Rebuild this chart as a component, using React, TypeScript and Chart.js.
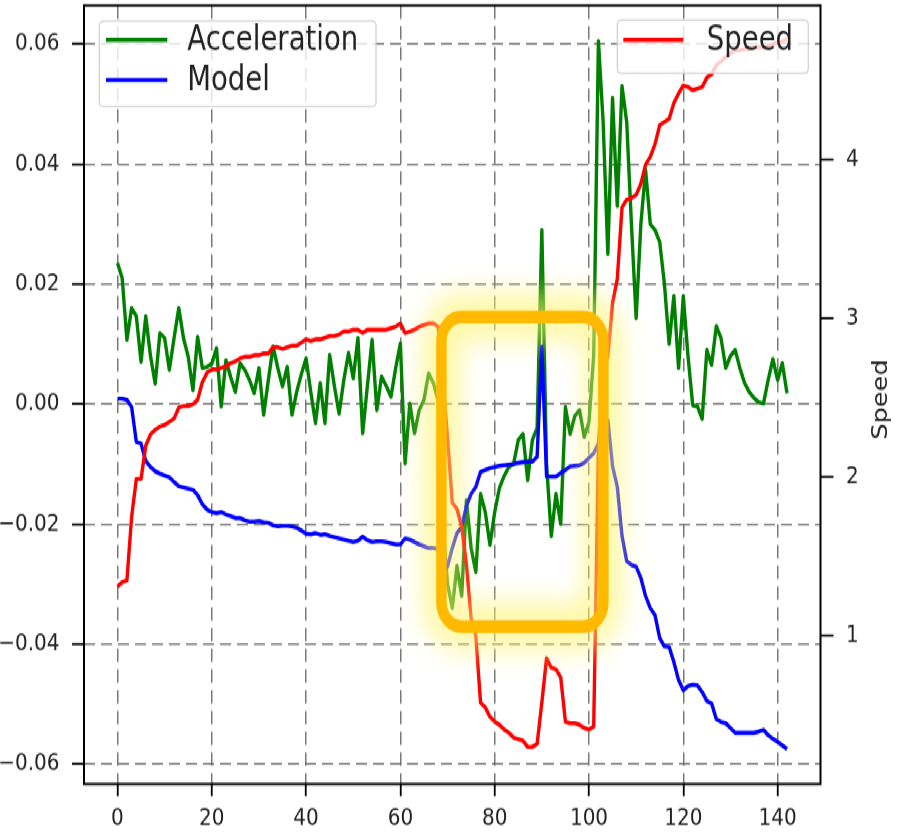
import React, { useEffect, useRef } from 'react';
import { Chart, registerables } from 'chart.js';
Chart.register(...registerables);

// ---------------- data ----------------
const steps = Array.from({ length: 143 }, (_, i) => i);

const acceleration = [
  0.0235, 0.021, 0.0107, 0.016, 0.0146, 0.007, 0.0146, 0.008, 0.0034, 0.0118,
  0.011, 0.0057, 0.011, 0.016, 0.011, 0.0079, 0.0023, 0.0112, 0.006, 0.0062,
  0.0067, 0.0093, -0.0004, 0.0073, 0.0045, 0.002, 0.0068, 0.0057, 0.004, 0.0018,
  0.006, -0.0018, 0.004, 0.0096, 0.006, 0.0029, 0.0062, -0.0018, 0.002, 0.005,
  0.0076, 0.002, -0.0032, 0.0035, -0.0032, 0.0082, 0.003, -0.0016, 0.004, 0.0085,
  0.0043, 0.011, -0.0049, 0.003, 0.0107, -0.001, 0.0046, 0.003, 0.0012, 0.006,
  0.0101, -0.0099, 0.0001, -0.0049, -0.001, 0.0007, 0.0051, 0.0035, 0.0005, -0.02,
  -0.03, -0.034, -0.027, -0.032, -0.016, -0.024, -0.028, -0.015, -0.018, -0.0235,
  -0.018, -0.014, -0.012, -0.0105, -0.01, -0.006, -0.005, -0.0127, -0.006, -0.004,
  0.029, -0.01, -0.022, -0.015, -0.02, -0.0005, -0.005, -0.002, -0.001, -0.0055,
  -0.003, 0.008, 0.0605, 0.047, 0.025, 0.051, 0.033, 0.053, 0.047, 0.03,
  0.0143, 0.03, 0.039, 0.03, 0.029, 0.027, 0.02, 0.01, 0.018, 0.006,
  0.018, 0.008, -0.0002, -0.0004, -0.0025, 0.009, 0.0065, 0.013, 0.011, 0.006,
  0.008, 0.009, 0.006, 0.0035, 0.002, 0.001, 0.0003, 0.0001, 0.004, 0.0075,
  0.004, 0.0068, 0.0018,
];

const model = [
  0.0009, 0.0009, 0.0007, -0.0005, -0.0063, -0.0066, -0.0095, -0.0105, -0.0112, -0.0116,
  -0.0119, -0.0122, -0.013, -0.0137, -0.0139, -0.0141, -0.0143, -0.0152, -0.0167, -0.0176,
  -0.018, -0.0182, -0.018, -0.0184, -0.0187, -0.019, -0.019, -0.0194, -0.0196, -0.0196,
  -0.0195, -0.0197, -0.0198, -0.0202, -0.0204, -0.0203, -0.0203, -0.0204, -0.0206, -0.0211,
  -0.0216, -0.0217, -0.0215, -0.0218, -0.0217, -0.022, -0.0222, -0.0224, -0.0226, -0.0228,
  -0.023, -0.0228, -0.0221, -0.0227, -0.023, -0.0229, -0.0229, -0.023, -0.0232, -0.0234,
  -0.0234, -0.0224, -0.0226, -0.023, -0.0234, -0.0237, -0.024, -0.024, -0.0242, -0.025,
  -0.0271, -0.024, -0.0215, -0.0205, -0.017, -0.015, -0.0138, -0.0113, -0.011, -0.0107,
  -0.0105, -0.0103, -0.0102, -0.0101, -0.01, -0.0098, -0.0097, -0.0096, -0.0096, -0.0088,
  0.0096, -0.0121, -0.0121, -0.0121, -0.0115, -0.011, -0.0104, -0.0103, -0.0102, -0.0098,
  -0.009, -0.0082, -0.0066, -0.004, -0.0027, -0.0104, -0.0138, -0.022, -0.0262, -0.0268,
  -0.0271, -0.029, -0.032, -0.034, -0.0352, -0.039, -0.0404, -0.0405, -0.043, -0.046,
  -0.0477, -0.047, -0.0468, -0.0469, -0.048, -0.0495, -0.0499, -0.0525, -0.053, -0.0532,
  -0.054, -0.0548, -0.0548, -0.0548, -0.0548, -0.0548, -0.0546, -0.0543, -0.0552, -0.0558,
  -0.0563, -0.0569, -0.0575,
];

const speed = [
  1.31, 1.34, 1.35, 1.75, 1.99, 1.99, 2.2, 2.27, 2.3, 2.32,
  2.33, 2.35, 2.37, 2.44, 2.45, 2.45, 2.46, 2.49, 2.6, 2.66,
  2.68, 2.68, 2.69, 2.7, 2.72, 2.73, 2.75, 2.76, 2.76, 2.77,
  2.77, 2.78, 2.78, 2.82, 2.82, 2.81, 2.82, 2.83, 2.83, 2.85,
  2.87, 2.86, 2.87, 2.87, 2.88, 2.89, 2.89, 2.9, 2.92, 2.92,
  2.93, 2.93, 2.91, 2.93, 2.93, 2.93, 2.93, 2.93, 2.94, 2.95,
  2.97, 2.91, 2.92, 2.93, 2.95, 2.96, 2.97, 2.97, 2.95, 2.62,
  2.25, 1.84, 1.8, 1.69, 1.45, 1.11, 1.0, 0.58, 0.55, 0.49,
  0.46, 0.44, 0.41, 0.39, 0.36, 0.35, 0.34, 0.3, 0.3, 0.32,
  0.58, 0.86, 0.8, 0.79, 0.74, 0.46, 0.45, 0.45, 0.44, 0.42,
  0.41, 0.43, 2.2, 2.68, 2.76, 3.1, 3.25, 3.7, 3.75, 3.76,
  3.78, 3.85, 3.97, 4.02, 4.1, 4.22, 4.24, 4.26, 4.36, 4.42,
  4.47, 4.46, 4.44, 4.45, 4.46, 4.52, 4.54, 4.6, 4.62, 4.65,
  4.67, 4.69, 4.69, 4.7, 4.7, 4.71, 4.71, 4.71, 4.72, 4.73,
  4.74, 4.75, 4.76,
];

const xTicks = [0, 20, 40, 60, 80, 100, 120, 140];
const accTicks = [-0.06, -0.04, -0.02, 0, 0.02, 0.04, 0.06];
const speedTicks = [1, 2, 3, 4];

const leftLegend = [
  { label: 'Acceleration', color: '#008000' },
  { label: 'Model', color: '#0000ff' },
];
const rightLegend = [{ label: 'Speed', color: '#ff0000' }];
const speedAxisTitle = 'Speed';

// highlighted region (data units)
const highlight = { xFrom: 68.7, xTo: 103.05, yFrom: -0.0371, yTo: 0.0145 };

// ---------------- layout ----------------
const W = 897;
const H_OUT = 836;
const H = 685;
const K = H_OUT / H;
const FONT = '"DejaVu Sans", sans-serif';

function fmtAcc(v: number) {
  if (Math.abs(v) < 1e-9) return '0.00';
  return (v < 0 ? '\u2212' : '') + Math.abs(v).toFixed(2);
}

function drawLegend(ctx: CanvasRenderingContext2D, box: any, items: any[]) {
  ctx.save();
  ctx.beginPath();
  ctx.roundRect(box.x, box.y, box.w, box.h, 4);
  ctx.fillStyle = 'rgba(255,255,255,0.8)';
  ctx.fill();
  ctx.strokeStyle = 'rgba(204,204,204,0.9)';
  ctx.lineWidth = 1.3;
  ctx.stroke();
  items.forEach((it, i) => {
    const cy = box.y + box.row0 + i * box.gap;
    ctx.beginPath();
    ctx.moveTo(box.x + box.l0, cy);
    ctx.lineTo(box.x + box.l1, cy);
    ctx.strokeStyle = it.color;
    ctx.lineWidth = 3.4;
    ctx.lineCap = 'butt';
    ctx.stroke();
    ctx.fillStyle = '#222';
    ctx.font = `27.5px ${FONT}`;
    ctx.textAlign = 'left';
    ctx.textBaseline = 'middle';
    ctx.fillText(it.label, box.x + box.tx, cy + 1);
  });
  ctx.restore();
}

const decorPlugin = {
  id: 'decor',
  afterDatasetsDraw(chart: any) {
    const { ctx, chartArea: a, scales } = chart;
    const x = scales.x;
    const y = scales.y;
    // frame
    ctx.save();
    ctx.strokeStyle = '#000';
    ctx.lineWidth = 2;
    ctx.strokeRect(a.left, a.top, a.right - a.left, a.bottom - a.top);
    ctx.restore();

    // highlight box with glow
    const L = x.getPixelForValue(highlight.xFrom);
    const R = x.getPixelForValue(highlight.xTo);
    const T = y.getPixelForValue(highlight.yTo);
    const B = y.getPixelForValue(highlight.yFrom);
    ctx.save();
    ctx.beginPath();
    ctx.roundRect(L, T, R - L, B - T, 20);
    ctx.filter = 'blur(11px)';
    ctx.strokeStyle = 'rgba(255, 244, 110, 0.6)';
    ctx.lineWidth = 40;
    ctx.stroke();
    ctx.filter = 'none';
    ctx.strokeStyle = '#FFBA00';
    ctx.lineWidth = 10.5;
    ctx.stroke();
    ctx.restore();

    // legends
    drawLegend(ctx, { x: 99.3, y: 17.2, w: 276.7, h: 70.2, row0: 15.6, gap: 32.8, l0: 6.7, l1: 68, tx: 88 }, leftLegend);
    drawLegend(ctx, { x: 617.3, y: 16.4, w: 191, h: 43.7, row0: 16.4, gap: 32.8, l0: 6, l1: 66, tx: 89.5 }, rightLegend);
  },
  afterDraw(chart: any) {
    const { ctx, chartArea: a } = chart;
    ctx.save();
    ctx.translate(882, (a.top + a.bottom) / 2 + 4);
    ctx.rotate(-Math.PI / 2);
    ctx.fillStyle = '#222';
    ctx.font = `21px ${FONT}`;
    ctx.textAlign = 'center';
    ctx.textBaseline = 'middle';
    ctx.fillText(speedAxisTitle, 0, 0);
    ctx.restore();
  },
};

const gridCommon = {
  color: 'rgba(105,105,105,0.9)',
  lineWidth: 1.5,
  tickColor: '#000',
  tickWidth: 1.8,
};

export default function App() {
  const ref = useRef<HTMLCanvasElement>(null);
  useEffect(() => {
    const canvas = ref.current!;
    Chart.defaults.font.family = FONT;
    const chart = new Chart(canvas, {
      type: 'line',
      data: {
        datasets: [
          {
            label: 'Speed',
            data: steps.map((s, i) => ({ x: s, y: speed[i] })),
            yAxisID: 'ySpeed',
            borderColor: '#ff0000',
            borderWidth: 3.4,
            pointRadius: 0,
            fill: false,
            order: 0,
          },
          {
            label: 'Model',
            data: steps.map((s, i) => ({ x: s, y: model[i] })),
            yAxisID: 'y',
            borderColor: '#0000ff',
            borderWidth: 3.4,
            pointRadius: 0,
            fill: false,
            order: 1,
          },
          {
            label: 'Acceleration',
            data: steps.map((s, i) => ({ x: s, y: acceleration[i] })),
            yAxisID: 'y',
            borderColor: '#008000',
            borderWidth: 3.4,
            pointRadius: 0,
            fill: false,
            order: 2,
          },
        ],
      },
      options: {
        responsive: false,
        animation: false,
        devicePixelRatio: 1,
        layout: { padding: { top: 4.5, left: 0, right: 0, bottom: 0 } },
        plugins: { legend: { display: false }, tooltip: { enabled: false } },
        elements: { line: { tension: 0, borderJoinStyle: 'round', borderCapStyle: 'butt' } },
        scales: {
          x: {
            type: 'linear',
            position: 'bottom',
            min: -7.1,
            max: 149.1,
            bounds: 'data',
            afterBuildTicks: (s: any) => {
              s.ticks = xTicks.map((v) => ({ value: v }));
            },
            afterFit: (s: any) => {
              s.height = H - 642.4;
              s.paddingLeft = 0;
              s.paddingRight = 0;
            },
            ticks: {
              autoSkip: false,
              maxRotation: 0,
              padding: 6,
              color: '#222',
              font: { family: FONT, size: 20 },
              callback: (v: any) => String(v),
            },
            grid: { ...gridCommon, drawOnChartArea: true, drawTicks: true, tickLength: 10 },
            border: { display: false, dash: [11, 6] },
          },
          y: {
            type: 'linear',
            position: 'left',
            min: -0.06333,
            max: 0.06642,
            bounds: 'data',
            afterBuildTicks: (s: any) => {
              s.ticks = accTicks.map((v) => ({ value: v }));
            },
            afterFit: (s: any) => {
              s.width = 84;
              s.paddingTop = 0;
              s.paddingBottom = 0;
            },
            ticks: {
              padding: 12.5,
              color: '#222',
              font: { family: FONT, size: 20 },
              callback: (v: any) => fmtAcc(Number(v)),
            },
            grid: { ...gridCommon, drawOnChartArea: true, drawTicks: true, tickLength: 12 },
            border: { display: false, dash: [11, 6] },
          },
          ySpeed: {
            type: 'linear',
            position: 'right',
            min: 0.067,
            max: 4.974,
            bounds: 'data',
            afterBuildTicks: (s: any) => {
              s.ticks = speedTicks.map((v) => ({ value: v }));
            },
            afterFit: (s: any) => {
              s.width = W - 820.5;
              s.paddingTop = 0;
              s.paddingBottom = 0;
            },
            ticks: {
              padding: 12.5,
              color: '#222',
              font: { family: FONT, size: 20 },
              callback: (v: any) => String(v),
            },
            grid: { ...gridCommon, drawOnChartArea: false, drawTicks: true, tickLength: 13 },
            border: { display: false },
          },
        },
      },
      plugins: [decorPlugin],
    } as any);
    return () => chart.destroy();
  }, []);

  return (
    <div
      style={{
        position: 'fixed',
        left: 0,
        top: 0,
        width: W,
        height: H,
        transform: `scaleY(${K})`,
        transformOrigin: '0 0',
        background: '#fff',
      }}
    >
      <canvas ref={ref} width={W} height={H} style={{ width: W, height: H, display: 'block' }} />
    </div>
  );
}
